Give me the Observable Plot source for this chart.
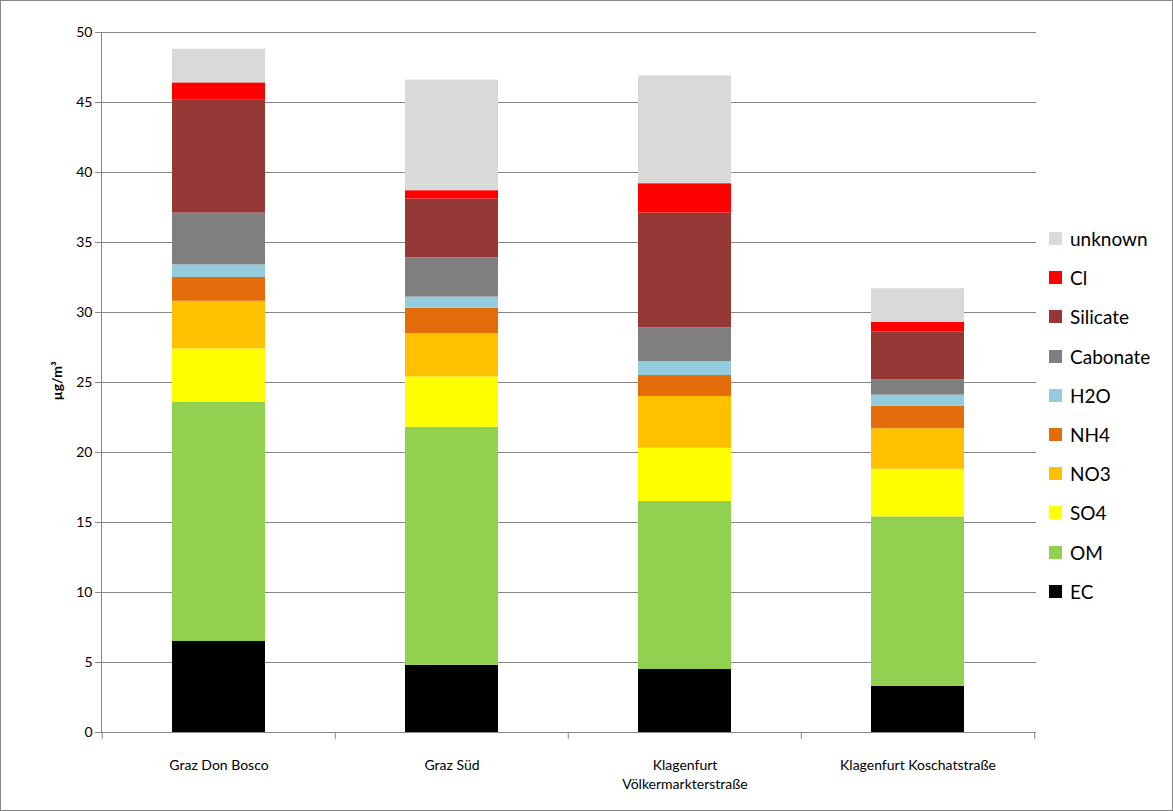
<!DOCTYPE html>
<html><head><meta charset="utf-8">
<script src="https://cdn.jsdelivr.net/npm/d3@7"></script>
<script src="https://cdn.jsdelivr.net/npm/@observablehq/plot@0.6"></script>
<style>
body{margin:0;font-family:Lato,"Open Sans",sans-serif;}
#wrap{position:relative;width:1171px;height:809px;border:1px solid #888;overflow:hidden;}
#legend{position:absolute;left:1048px;top:218px;font-size:19px;color:#000;}
#legend div{height:39.2px;display:flex;align-items:center;}
#legend span{display:inline-block;width:13px;height:13px;margin-right:8px;}
#ylab{position:absolute;left:55px;top:380px;transform:translate(-50%,-50%) rotate(-90deg);font-weight:bold;font-size:14px;}
</style></head><body>
<div id="wrap"><div id="chart"></div><div id="legend"></div><div id="ylab">µg/m³</div></div>
<script>
const sites = ["Graz Don Bosco","Graz Süd","Klagenfurt\nVölkermarkterstraße","Klagenfurt Koschatstraße"];
const components = ["EC","OM","SO4","NO3","NH4","H2O","Cabonate","Silicate","Cl","unknown"];
const colors = ["#000000","#92d050","#ffff00","#ffc000","#e46c0a","#93cddd","#7f7f7f","#953735","#ff0000","#d9d9d9"];
// cumulative tops
const tops = [
  [6.5,23.6,27.4,30.8,32.5,33.4,37.1,45.2,46.4,48.8],
  [4.8,21.8,25.4,28.5,30.3,31.1,33.9,38.1,38.7,46.6],
  [4.5,16.5,20.3,24.0,25.5,26.5,28.9,37.1,39.2,46.9],
  [3.3,15.4,18.8,21.7,23.3,24.1,25.2,28.6,29.3,31.7]
];
const data = [];
sites.forEach((s,i)=>components.forEach((c,j)=>data.push({site:s,comp:c,value:+(tops[i][j]-(j?tops[i][j-1]:0)).toFixed(2)})));
const half = 934/4/2;
const chart = Plot.plot({
  width:1171,height:809,marginLeft:100,marginRight:136,marginTop:31,marginBottom:78,
  style:{fontFamily:"Lato, 'Open Sans', sans-serif",fontSize:"14px",color:"#000"},
  x:{domain:sites,paddingInner:0.6,paddingOuter:0.3,align:0.5,label:null,tickSize:0},
  y:{domain:[0,50],label:null},
  color:{domain:components,range:colors},
  marks:[
    Plot.gridY(d3.range(5,51,5),{stroke:"#868686",strokeOpacity:1}),
    Plot.barY(data,{x:"site",y:"value",fill:"comp",order:components}),
    Plot.ruleY([0],{stroke:"#868686"}),
    Plot.ruleX(sites,{x:d=>d,y1:0,y2:0,insetBottom:-7,dx:-half,stroke:"#868686"}),
    Plot.ruleX([sites[3]],{x:d=>d,y1:0,y2:0,insetBottom:-7,dx:half,stroke:"#868686"}),
    Plot.axisY({ticks:d3.range(0,51,5),tickSize:6,stroke:"#868686",label:null,fontSize:14}),
    Plot.frame({anchor:"left",stroke:"#868686"}),
    Plot.axisX({tickSize:0,tickPadding:24,label:null,fontSize:14,lineHeight:1.35})
  ]
});
document.getElementById("chart").append(chart);
const lg=document.getElementById("legend");
components.slice().reverse().forEach((c,k)=>{const col=colors[components.length-1-k];
 const d=document.createElement("div");d.innerHTML=`<span style="background:${col}"></span>${c}`;lg.append(d);});
</script></body></html>
